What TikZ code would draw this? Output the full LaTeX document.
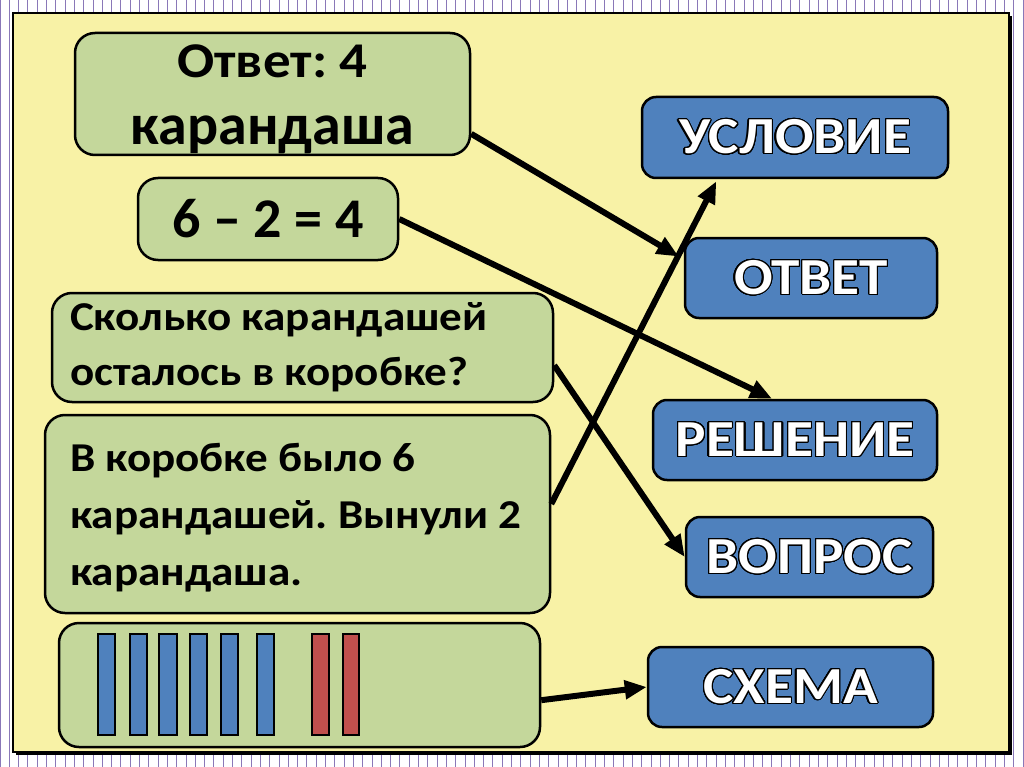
\documentclass[tikz,border=0pt]{standalone}
\usepackage{fontspec}
\setmainfont{Carlito}
\newfontfamily\cyrwide{Carlito}[FakeStretch=1.1]
\usepackage[copies]{contour}
\contourlength{1.1pt}
\contournumber{32}
\usetikzlibrary{arrows.meta,calc}
\definecolor{panelyellow}{HTML}{F8F2A6}
\definecolor{boxgreen}{HTML}{C4D79B}
\definecolor{boxblue}{HTML}{4F81BD}
\definecolor{barred}{HTML}{C0504D}
\definecolor{gridpurple}{HTML}{8A78B8}
\begin{document}
\frenchspacing
\begin{tikzpicture}[x=1pt,y=-1pt,
  gbox/.style={draw=black, line width=2.5pt, fill=boxgreen, rounded corners=20pt, inner sep=0pt},
  bbox/.style={draw=black, line width=2.5pt, fill=boxblue, rounded corners=14pt, inner sep=0pt,
    minimum height=80pt, text=white, font=\cyrwide\bfseries\fontsize{52}{60}\selectfont},
  conn/.style={line width=6pt, -{Triangle[length=22pt,width=18pt]}},
  bluebar/.style={draw=black, line width=2.5pt, fill=boxblue},
  redbar/.style={draw=black, line width=2.5pt, fill=barred}]
\useasboundingbox (0,0) rectangle (1024,767);
% grid background
\fill[white] (0,0) rectangle (1024,767);
\draw[gridpurple, line width=0.9pt, step=9.3] (0,0) grid (1024,767);
% panel with shadow
\fill[black] (16,16) rectangle (1012,755);
\draw[black, line width=2pt, fill=panelyellow] (13,13) rectangle (1009,752);
% green boxes
\node[gbox, minimum width=395pt, minimum height=122pt, align=center,
  font=\cyrwide\bfseries\fontsize{50}{67}\selectfont] (ans) at (272.5,94)
  {\rule{0pt}{43pt}Ответ: 4\\{\setmainfont{Carlito}\fontsize{58}{67}\selectfont\bfseries карандаша}};
\node[gbox, minimum width=260pt, minimum height=82pt,
  font=\bfseries\fontsize{56}{64}\selectfont] (eq) at (268,219) {6 – 2 = 4};
\node[gbox, minimum width=501pt, minimum height=109pt, inner xsep=18pt, text width=465pt, align=flush left,
  font=\cyrwide\bfseries\fontsize{41}{55}\selectfont] (q) at (302.5,347.5) {Сколько карандашей\\осталось в коробке?};
\node[gbox, minimum width=505pt, minimum height=198pt, inner xsep=25pt, text width=455pt, align=flush left,
  font=\cyrwide\bfseries\fontsize{41}{57}\selectfont] (cond) at (297.5,514) {\rule{0pt}{36pt}В коробке было 6\\карандашей. Вынули 2\\карандаша.};
\node[gbox, minimum width=481pt, minimum height=124pt] (sch) at (299.5,685) {};
% bars
\draw[bluebar] (98,634) rectangle (115,735);
\draw[bluebar] (130,634) rectangle (147,735);
\draw[bluebar] (159,634) rectangle (177,735);
\draw[bluebar] (190,634) rectangle (207,735);
\draw[bluebar] (221,634) rectangle (238,735);
\draw[bluebar] (257,634) rectangle (274,735);
\draw[redbar] (312,634) rectangle (329,735);
\draw[redbar] (343,634) rectangle (359,735);
% blue boxes
\node[bbox, minimum width=306pt, minimum height=81pt] (usl) at (795,137.5) {\contour{black}{УСЛОВИЕ}};
\node[bbox, minimum width=252pt] (otv) at (811,278) {\contour{black}{ОТВЕТ}};
\node[bbox, minimum width=284pt] (resh) at (795,440) {\contour{black}{РЕШЕНИЕ}};
\node[bbox, minimum width=247pt] (vopr) at (809.5,557) {\contour{black}{ВОПРОС}};
\node[bbox, minimum width=285pt] (shema) at (790.5,687) {\contour{black}{СХЕМА}};
% connectors
\draw[conn] ($(ans.north east)!0.82!(ans.south east)$) -- ($(otv.north west)!0.24!(otv.south west)+(-5,0)$);
\draw[conn] (eq.east) -- ($(resh.north west)!0.42!(resh.north east)$);
\draw[conn] ($(q.north east)!0.66!(q.south east)$) -- (vopr.west);
\draw[conn] ($(cond.north east)!0.45!(cond.south east)$) -- ($(usl.south west)!0.245!(usl.south east)+(0,2)$);
\draw[conn] ($(sch.north east)!0.62!(sch.south east)$) -- (shema.west);
\end{tikzpicture}
\end{document}
